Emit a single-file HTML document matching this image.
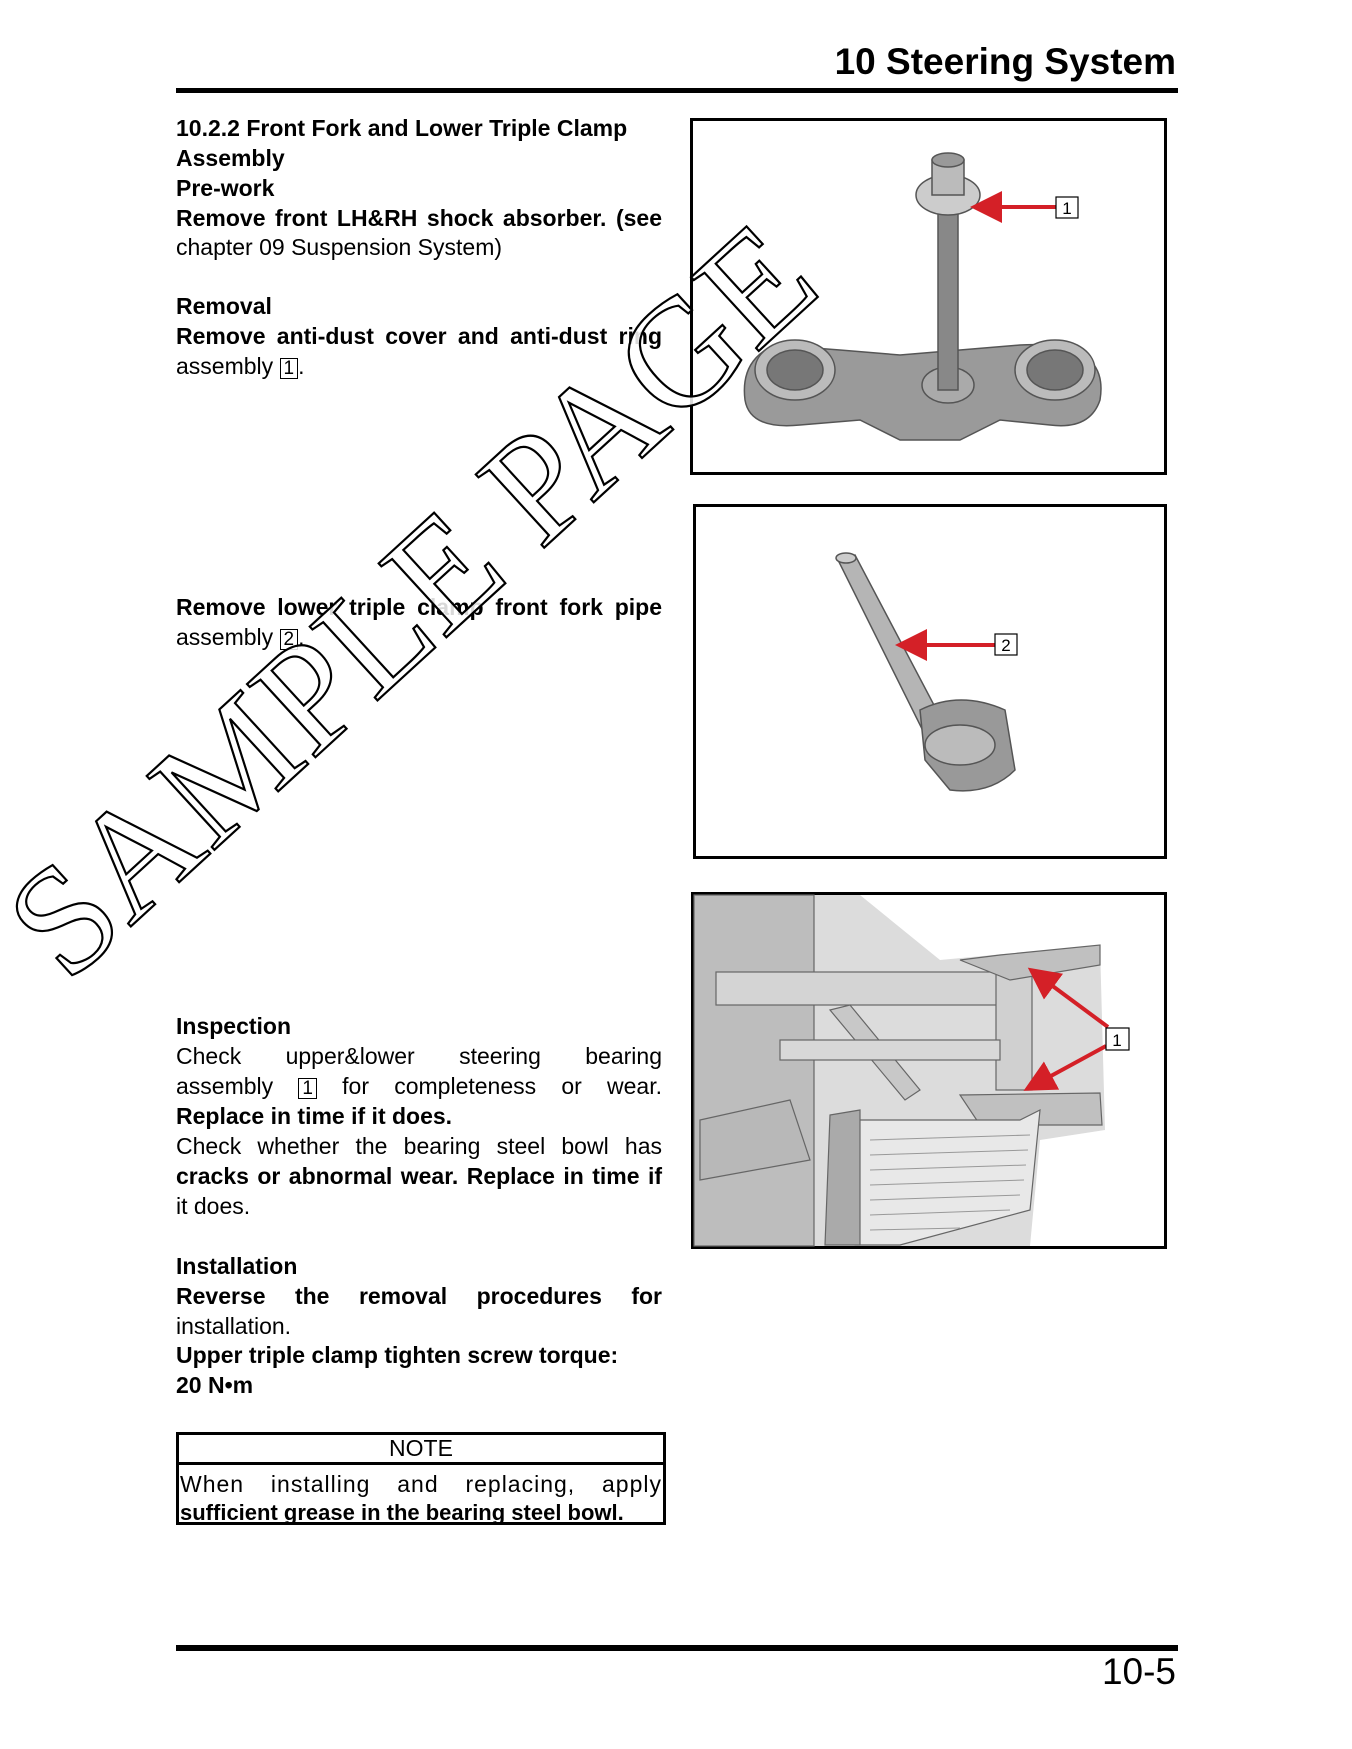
<!DOCTYPE html>
<html><head><meta charset="utf-8"><style>
html,body{margin:0;padding:0;background:#fff;}
body{width:1352px;height:1749px;position:relative;overflow:hidden;font-family:"Liberation Sans",sans-serif;color:#000;}
.l{position:absolute;left:176px;width:486px;height:30px;line-height:30px;font-size:23px;white-space:nowrap;}
.j{text-align:justify;text-align-last:justify;}
.b{font-weight:bold;}
.bx{display:inline-block;border:1.5px solid #000;line-height:19px;padding:0 3px;font-size:19px;font-weight:normal;}
.frame{position:absolute;border:3px solid #000;box-sizing:border-box;}
</style></head><body>
<div style="position:absolute;right:176px;top:40px;font-size:37px;font-weight:bold;line-height:44px;">10 Steering System</div>
<div style="position:absolute;left:176px;top:88px;width:1002px;height:5px;background:#000;"></div>

<div class="l b" style="top:113px;">10.2.2 Front Fork and Lower Triple Clamp</div>
<div class="l b" style="top:143px;">Assembly</div>
<div class="l b" style="top:173px;">Pre-work</div>
<div class="l b j" style="top:203px;">Remove front LH&amp;RH shock absorber. (see</div>
<div class="l" style="top:232px;">chapter 09 Suspension System)</div>

<div class="l b" style="top:291px;">Removal</div>
<div class="l b j" style="top:321px;">Remove anti-dust cover and anti-dust ring</div>
<div class="l" style="top:351px;">assembly <span class="bx">1</span>.</div>

<div class="l b j" style="top:592px;">Remove lower triple clamp front fork pipe</div>
<div class="l" style="top:622px;">assembly <span class="bx">2</span>.</div>

<div class="l b" style="top:1011px;">Inspection</div>
<div class="l j" style="top:1041px;">Check upper&amp;lower steering bearing</div>
<div class="l j" style="top:1071px;">assembly <span class="bx">1</span> for completeness or wear.</div>
<div class="l b" style="top:1101px;">Replace in time if it does.</div>
<div class="l j" style="top:1131px;">Check whether the bearing steel bowl has</div>
<div class="l b j" style="top:1161px;">cracks or abnormal wear. Replace in time if</div>
<div class="l" style="top:1191px;">it does.</div>

<div class="l b" style="top:1251px;">Installation</div>
<div class="l b j" style="top:1281px;">Reverse the removal procedures for</div>
<div class="l" style="top:1311px;">installation.</div>
<div class="l b" style="top:1340px;">Upper triple clamp tighten screw torque:</div>
<div class="l b" style="top:1370px;">20 N•m</div>

<div class="frame" style="left:176px;top:1432px;width:490px;height:93px;"></div>
<div style="position:absolute;left:176px;top:1462px;width:490px;height:3px;background:#000;"></div>
<div style="position:absolute;left:176px;top:1434px;width:490px;text-align:center;font-size:23px;line-height:28px;">NOTE</div>
<div class="l j" style="left:180px;width:482px;top:1469px;letter-spacing:1px;">When installing and replacing, apply</div>
<div class="l b" style="left:180px;width:482px;top:1498px;font-size:22px;">sufficient grease in the bearing steel bowl.</div>

<div style="position:absolute;left:176px;top:1645px;width:1002px;height:6px;background:#000;"></div>
<div style="position:absolute;right:176px;top:1650px;font-size:37px;line-height:44px;">10-5</div>

<!-- images -->
<div class="frame" style="left:690px;top:118px;width:477px;height:357px;"></div>
<div class="frame" style="left:693px;top:504px;width:474px;height:355px;"></div>
<div class="frame" style="left:691px;top:892px;width:476px;height:357px;"></div>

<svg width="1352" height="1749" style="position:absolute;left:0;top:0;" xmlns="http://www.w3.org/2000/svg">
<defs><marker id="ah" markerWidth="8" markerHeight="8" refX="7" refY="4" orient="auto"><path d="M0,0 L8,4 L0,8 z" fill="#d42027"/></marker></defs>
<g fill="#9a9a9a" stroke="#555" stroke-width="1.5">
<path d="M745,400 Q740,360 775,345 L840,350 L900,355 L960,350 L1020,345 Q1110,340 1100,400 Q1090,430 1050,425 L1000,420 L960,440 L900,440 L860,420 L800,425 Q750,430 745,400 z"/>
<ellipse cx="795" cy="370" rx="40" ry="30" fill="#bbb"/>
<ellipse cx="1055" cy="370" rx="40" ry="30" fill="#bbb"/>
<ellipse cx="795" cy="370" rx="28" ry="20" fill="#777"/>
<ellipse cx="1055" cy="370" rx="28" ry="20" fill="#777"/>
<ellipse cx="948" cy="385" rx="26" ry="18" fill="#aaa"/>
<rect x="938" y="210" width="20" height="180" fill="#888"/>
<ellipse cx="948" cy="195" rx="32" ry="20" fill="#ccc"/>
<rect x="932" y="160" width="32" height="35" fill="#bbb"/>
<ellipse cx="948" cy="160" rx="16" ry="7" fill="#999"/>
</g>
<line x1="1056" y1="207" x2="974" y2="207" stroke="#d42027" stroke-width="4" marker-end="url(#ah)"/>
<rect x="1056" y="197" width="22" height="21" fill="#fff" stroke="#000" stroke-width="1.2"/>
<text x="1067" y="214" font-size="17" text-anchor="middle" font-family="Liberation Sans">1</text>
<g fill="#b5b5b5" stroke="#555" stroke-width="1.5">
<path d="M838,560 L855,555 L955,745 L935,755 z"/>
<ellipse cx="846" cy="558" rx="10" ry="5" fill="#ccc"/>
<path d="M920,710 Q960,690 1005,710 L1015,770 Q990,795 950,790 L925,760 z" fill="#999"/>
<ellipse cx="960" cy="745" rx="35" ry="20" fill="#bbb"/>
</g>
<line x1="995" y1="645" x2="899" y2="645" stroke="#d42027" stroke-width="4" marker-end="url(#ah)"/>
<rect x="995" y="634" width="22" height="21" fill="#fff" stroke="#000" stroke-width="1.2"/>
<text x="1006" y="651" font-size="17" text-anchor="middle" font-family="Liberation Sans">2</text>
<path d="M694,895 L860,895 L940,960 L1100,945 L1105,1130 L1040,1140 L1030,1246 L694,1246 z" fill="#dcdcdc"/>
<g fill="#c8c8c8" stroke="#666" stroke-width="1.2">
<rect x="694" y="895" width="120" height="351" fill="#bdbdbd"/>
<rect x="716" y="972" width="300" height="33" fill="#d4d4d4"/>
<rect x="996" y="970" width="36" height="120" fill="#d0d0d0"/>
<path d="M960,960 L1000,955 L1100,945 L1100,965 L1010,980 z" fill="#c0c0c0"/>
<path d="M960,1095 L1100,1093 L1102,1125 L980,1125 z" fill="#c0c0c0"/>
<path d="M830,1010 L850,1005 L920,1090 L905,1100 z"/>
<path d="M840,1120 L1020,1120 L1040,1110 L1030,1210 L900,1245 L855,1245 z" fill="#e8e8e8"/>
<path d="M830,1115 L860,1110 L860,1245 L825,1245 z" fill="#aaa"/>
<rect x="780" y="1040" width="220" height="20" fill="#d8d8d8"/>
<path d="M700,1120 L790,1100 L810,1160 L700,1180 z" fill="#b8b8b8"/>
</g>
<g stroke="#999" stroke-width="1">
<line x1="870" y1="1140" x2="1030" y2="1135"/><line x1="870" y1="1155" x2="1028" y2="1150"/><line x1="870" y1="1170" x2="1026" y2="1165"/><line x1="870" y1="1185" x2="1024" y2="1180"/><line x1="870" y1="1200" x2="1020" y2="1195"/><line x1="870" y1="1215" x2="1010" y2="1210"/><line x1="870" y1="1230" x2="960" y2="1228"/>
</g>
<line x1="1108" y1="1027" x2="1031" y2="970" stroke="#d42027" stroke-width="4" marker-end="url(#ah)"/>
<line x1="1106" y1="1046" x2="1027" y2="1089" stroke="#d42027" stroke-width="4" marker-end="url(#ah)"/>
<rect x="1106" y="1028" width="23" height="22" fill="#fff" stroke="#000" stroke-width="1.2"/>
<text x="1117" y="1046" font-size="17" text-anchor="middle" font-family="Liberation Sans">1</text>
<text x="422" y="612" transform="rotate(-42.5 422 612)" text-anchor="middle" dominant-baseline="middle" font-family="Liberation Serif" font-size="153" fill="#fff" stroke="#000" stroke-width="2.2" fill-opacity="0.85">SAMPLE PAGE</text>
</svg>
</body></html>
